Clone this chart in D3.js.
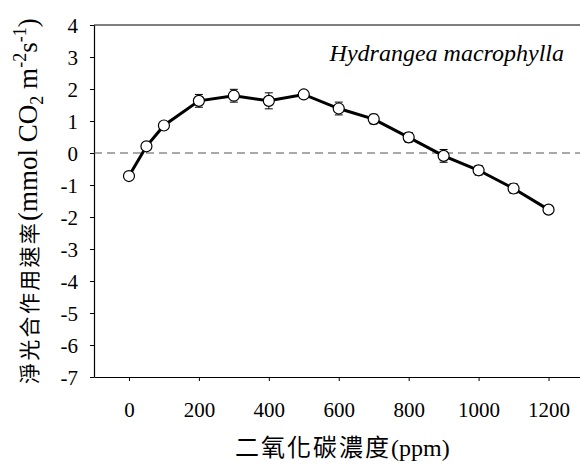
<!DOCTYPE html>
<html><head><meta charset="utf-8">
<script src="https://cdn.jsdelivr.net/npm/d3@7/dist/d3.min.js"></script>
<style>
body{margin:0;background:#fff;}
text{font-family:"Liberation Serif","Times New Roman",serif;}
.cjk{font-family:"Noto Sans CJK TC","Noto Sans CJK SC",sans-serif;}
.lat{font-family:"Liberation Serif","Times New Roman",serif;}
</style></head>
<body><svg id="c" width="580" height="466"></svg>
<script>
const co2 = [0, 50, 100, 200, 300, 400, 500, 600, 700, 800, 900, 1000, 1100, 1200];
const rate = [-0.72, 0.21, 0.86, 1.63, 1.79, 1.63, 1.83, 1.39, 1.06, 0.49, -0.09, -0.54, -1.11, -1.77];
const err = [0.08, 0.08, 0.1, 0.2, 0.2, 0.25, 0.1, 0.2, 0.15, 0.15, 0.2, 0.15, 0.15, 0.1];
const xTicks = [0, 200, 400, 600, 800, 1000, 1200];
const yTicks = [4, 3, 2, 1, 0, -1, -2, -3, -4, -5, -6, -7];
const titleText = "Hydrangea macrophylla";
const xLabelCJK = "二氧化碳濃度";
const xLabelUnit = "(ppm)";
const yLabelCJK = "淨光合作用速率";

const svg = d3.select("#c");
const x = d3.scaleLinear().domain([-100, 1290]).range([94, 580]);
const y = d3.scaleLinear().domain([-7, 4]).range([377, 25]);
const fmt = d => String(d);

// axes
const xAxis = svg.append("g").attr("transform", `translate(0,${y(-7)})`)
  .call(d3.axisBottom(x).tickValues(xTicks).tickSize(4).tickSizeOuter(0).tickPadding(21).tickFormat(fmt));
const yAxis = svg.append("g").attr("transform", `translate(${x(-100)},0)`)
  .call(d3.axisLeft(y).tickValues(yTicks).tickSize(4).tickSizeOuter(0).tickPadding(12).tickFormat(fmt));
[xAxis, yAxis].forEach(g => {
  g.select(".domain").attr("stroke", "#000").attr("stroke-width", 1.2);
  g.selectAll(".tick line").attr("stroke", "#000").attr("stroke-width", 1);
  g.selectAll(".tick text").attr("fill", "#000").style("font-size", "21px")
    .style("font-family", "'Liberation Serif', serif");
});
yAxis.selectAll(".tick text").attr("dy", "0.35em");
// top border
svg.append("line").attr("x1", x(-100)).attr("x2", 580).attr("y1", y(4)).attr("y2", y(4))
  .attr("stroke", "#000").attr("stroke-width", 1.2);

// zero dashed line
svg.append("line").attr("x1", x(-100)).attr("x2", 580).attr("y1", y(0)).attr("y2", y(0))
  .attr("stroke", "#555").attr("stroke-width", 1.2).attr("stroke-dasharray", "8,5");

const data = co2.map((c, i) => ({c, v: rate[i], e: err[i]}));

// error bars
const eb = svg.append("g").attr("stroke", "#000").attr("stroke-width", 1);
data.forEach(d => {
  eb.append("line").attr("x1", x(d.c)).attr("x2", x(d.c)).attr("y1", y(d.v - d.e)).attr("y2", y(d.v + d.e));
  [d.v - d.e, d.v + d.e].forEach(t => eb.append("line")
    .attr("x1", x(d.c) - 4).attr("x2", x(d.c) + 4).attr("y1", y(t)).attr("y2", y(t)));
});

// line
svg.append("path").datum(data)
  .attr("d", d3.line().x(d => x(d.c)).y(d => y(d.v)))
  .attr("fill", "none").attr("stroke", "#000").attr("stroke-width", 3);

// markers
svg.append("g").selectAll("circle").data(data).join("circle")
  .attr("cx", d => x(d.c)).attr("cy", d => y(d.v)).attr("r", 5.5)
  .attr("fill", "#fff").attr("stroke", "#000").attr("stroke-width", 1.2);

// title
svg.append("text").attr("x", 564).attr("y", 61).attr("text-anchor", "end")
  .style("font-style", "italic").style("font-size", "24px").attr("fill", "#000").text(titleText);

// x label
const xl = svg.append("text").attr("x", 235).attr("y", 456).attr("text-anchor", "start").attr("fill", "#000");
xl.append("tspan").attr("class", "cjk").style("font-size", "24px").attr("letter-spacing", "2").text(xLabelCJK);
xl.append("tspan").attr("class", "lat").style("font-size", "24px").text(xLabelUnit);

// y label
const yl = svg.append("text").attr("fill", "#000")
  .attr("transform", "translate(37,384) rotate(-90)").attr("text-anchor", "start");
yl.append("tspan").attr("class", "cjk").style("font-size", "21px").attr("letter-spacing", "2.3").text(yLabelCJK);
yl.append("tspan").attr("class", "lat").style("font-size", "27px").text("(mmol CO");
yl.append("tspan").attr("class", "lat").attr("dy", 6).style("font-size", "18px").text("2");
yl.append("tspan").attr("class", "lat").attr("dy", -6).style("font-size", "27px").text(" m");
yl.append("tspan").attr("class", "lat").attr("dy", -11).style("font-size", "18px").text("-2");
yl.append("tspan").attr("class", "lat").attr("dy", 11).style("font-size", "27px").text("s");
yl.append("tspan").attr("class", "lat").attr("dy", -11).style("font-size", "18px").text("-1");
yl.append("tspan").attr("class", "lat").attr("dy", 11).style("font-size", "27px").text(")");
</script></body></html>
